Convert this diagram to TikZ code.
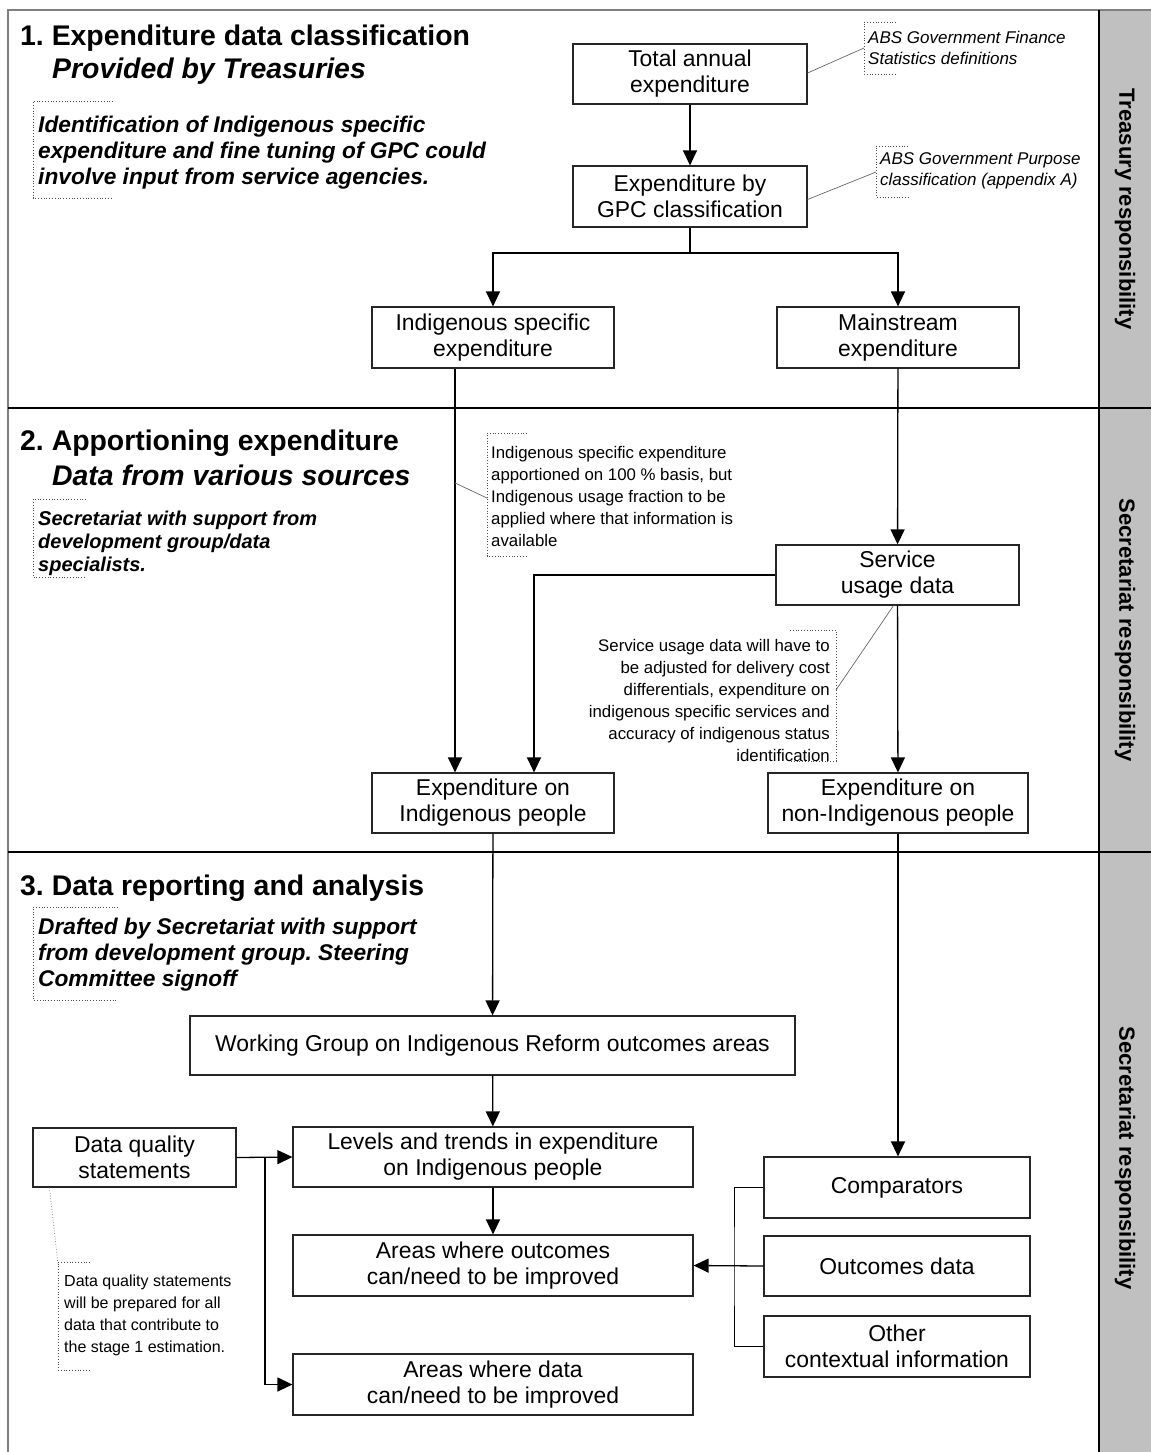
\documentclass[tikz,border=0pt]{standalone}
\usepackage{fontspec}
\setmainfont{Liberation Sans}
\usetikzlibrary{arrows.meta}
\definecolor{band}{HTML}{C0C0C0}
\definecolor{frame}{HTML}{808080}
\frenchspacing
\begin{document}
\begin{tikzpicture}[x=1pt,y=-1pt,
  box/.style={draw=black!85, line width=1.2pt, fill=white, align=center,
    font=\fontsize{22.9}{26}\selectfont, inner sep=0pt},
  conn/.style={line width=1.3pt, black},
  arr/.style={conn, -{Triangle[length=15pt,width=14pt]}},
  ttl/.style={anchor=base west, inner sep=0pt, font=\fontsize{28.4}{32}\selectfont\bfseries},
  bnote/.style={anchor=north west, align=left, inner sep=0pt, font=\fontsize{22.7}{26}\selectfont\bfseries\itshape},
  ann/.style={inner sep=0pt, font=\fontsize{16.8}{22}\selectfont},
  brk/.style={draw=black!70, line width=0.8pt, dotted},
  lead/.style={draw=black!60, line width=0.7pt},
  side/.style={rotate=-90, inner sep=0pt, font=\fontsize{22}{26}\selectfont\bfseries}
]
\useasboundingbox (0,0) rectangle (1151,1452);
% frame and band
\fill[band] (1099,10) rectangle (1151,1452);
\draw[frame, line width=2pt] (8,1452) -- (8,10) -- (1151,10);
\draw[black, line width=1.8pt] (1099,10) -- (1099,1452);
\draw[black, line width=1.8pt] (8,408) -- (1151,408);
\draw[black, line width=1.8pt] (8,852) -- (1151,852);
\node[side] (s1) at (1125,209) {Treasury responsibility};
\node[side] (s2) at (1125,630) {Secretariat responsibility};
\node[side] (s3) at (1125,1158) {Secretariat responsibility};

% titles
\node[ttl] (t1a) at (20,45) {1. Expenditure data classification};
\node[ttl] (t1b) at (52,78) {\itshape Provided by Treasuries};
\node[ttl] (t2a) at (20,450) {2. Apportioning expenditure};
\node[ttl] (t2b) at (52,485) {\itshape Data from various sources};
\node[ttl] (t3a) at (20,895) {3. Data reporting and analysis};

% bold italic notes
\node[bnote] (n1) at (38,116) {Identification of Indigenous specific\\expenditure and fine tuning of GPC could\\involve input from service agencies.};
\draw[brk] (113,101) -- (33,101) -- (33,198) -- (113,198);
\node[bnote, font=\fontsize{20}{23}\selectfont\bfseries\itshape] (n2) at (38,511) {Secretariat with support from\\development group/data\\specialists.};
\draw[brk] (86,499) -- (33,499) -- (33,577) -- (86,577);
\node[bnote] (n3) at (38,918) {Drafted by Secretariat with support\\from development group. Steering\\Committee signoff};
\draw[brk] (118,907) -- (33,907) -- (33,1000) -- (118,1000);

% boxes
\node[box, minimum width=234pt, minimum height=60pt] (tot) at (690,74) {Total annual\\expenditure};
\node[box, minimum width=234pt, minimum height=61pt] (gpc) at (690,196.5) {Expenditure by\\GPC classification};
\node[box, minimum width=242pt, minimum height=61pt] (ind) at (493,337.5) {Indigenous specific\\expenditure};
\node[box, minimum width=242pt, minimum height=61pt] (mst) at (898,337.5) {Mainstream\\expenditure};
\node[box, minimum width=243pt, minimum height=60pt] (srv) at (897.5,575) {Service\\usage data};
\node[box, minimum width=242pt, minimum height=60pt] (expi) at (493,803) {Expenditure on\\Indigenous people};
\node[box, minimum width=260pt, minimum height=60pt] (expn) at (898,803) {Expenditure on\\non-Indigenous people};
\node[box, minimum width=605pt, minimum height=59pt] (wg) at (492.5,1045.5) {Working Group on Indigenous Reform outcomes areas};
\node[box, minimum width=400pt, minimum height=60pt] (lev) at (493,1157) {Levels and trends in expenditure\\on Indigenous people};
\node[box, minimum width=400pt, minimum height=61pt] (aout) at (493,1265.5) {Areas where outcomes\\can/need to be improved};
\node[box, minimum width=400pt, minimum height=61pt] (adat) at (493,1384.5) {Areas where data\\can/need to be improved};
\node[box, minimum width=203pt, minimum height=59pt] (dq) at (134.5,1157.5) {Data quality\\statements};
\node[box, minimum width=266pt, minimum height=61pt] (cmp) at (897,1187.5) {Comparators};
\node[box, minimum width=266pt, minimum height=60pt] (outd) at (897,1266) {Outcomes data};
\node[box, minimum width=266pt, minimum height=61pt] (oth) at (897,1346.5) {Other\\contextual information};

% connectors
\draw[arr] (tot) -- (gpc);
\coordinate (split) at (690,253);
\draw[conn] (gpc.south) -- (split);
\draw[arr] (split) -| (ind.north);
\draw[arr] (split) -| (mst.north);
\draw[arr] ([xshift=-38pt]ind.south) -- ([xshift=-38pt]expi.north);
\draw[arr] (mst) -- (srv);
\draw[arr] (srv.west) -| ([xshift=41pt]expi.north);
\draw[arr] (srv) -- (expn);
\draw[arr] (expi) -- (wg);
\draw[arr] (wg) -- (lev);
\draw[arr] (lev) -- (aout);
\draw[arr] (dq.east) -- (lev.west);
\coordinate (dqb) at (265,1157);
\draw[arr] (dqb) |- (adat.west);
\draw[arr] (expn.south) -- (expn.south |- cmp.north);
\coordinate (cb) at (734,1266);
\draw[conn, line width=0.9pt] (cmp.west) -| (cb) |- (oth.west);
\draw[arr] (outd.west) -- (aout.east);

% annotations
\node[ann, anchor=north west, align=left, font=\fontsize{17}{21}\selectfont\itshape] (a1) at (868,31) {ABS Government Finance\\Statistics definitions};
\draw[brk] (896,22) -- (864,22) -- (864,74) -- (896,74);
\coordinate (a1b) at (864,48);
\draw[lead] ([yshift=1pt]tot.east) -- (a1b);

\node[ann, anchor=north west, align=left, font=\fontsize{17}{21}\selectfont\itshape] (a2) at (880,152) {ABS Government Purpose\\classification (appendix A)};
\draw[brk] (908,146) -- (876,146) -- (876,197) -- (908,197);
\coordinate (a2b) at (876,172);
\draw[lead] ([yshift=-3pt]gpc.east) -- (a2b);

\node[ann, anchor=north west, align=left] (a3) at (491,446) {Indigenous specific expenditure\\apportioned on 100 \% basis, but\\Indigenous usage fraction to be\\applied where that information is\\available};
\draw[brk] (527,433) -- (487,433) -- (487,556) -- (527,556);
\coordinate (a3b) at (487,498);
\coordinate (a3s) at (455,483);
\draw[lead] (a3s) -- (a3b);

\node[ann, anchor=north east, align=right] (a4) at (830,639) {Service usage data will have to\\be adjusted for delivery cost\\differentials, expenditure on\\indigenous specific services and\\accuracy of indigenous status\\identification};
\draw[brk] (790,630) -- (836,630) -- (836,761) -- (790,761);
\coordinate (a4b) at (836,690);
\draw[lead] ([xshift=-4pt]srv.south) -- (a4b);

\node[ann, anchor=north west, align=left, font=\fontsize{16}{22}\selectfont] (a5) at (64,1275) {Data quality statements\\will be prepared for all\\data that contribute to\\the stage 1 estimation.};
\draw[brk] (90,1262) -- (58,1262) -- (58,1370) -- (90,1370);
\coordinate (a5b) at (58,1264);
\draw[lead, dotted] ([xshift=-85pt]dq.south) -- (a5b);
\end{tikzpicture}
\end{document}
